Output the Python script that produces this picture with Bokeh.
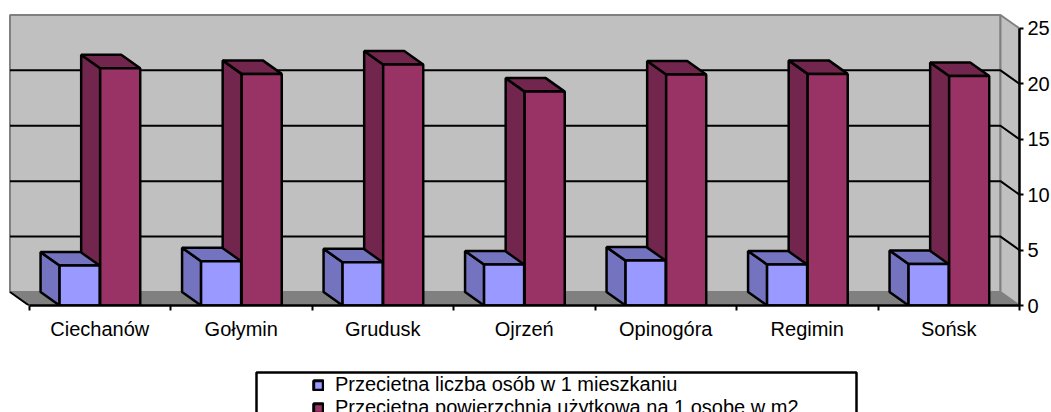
from bokeh.plotting import figure
from bokeh.layouts import column
from bokeh.models import Range1d, FixedTicker, Legend, LegendItem, BoxAnnotation
from bokeh.embed import file_html
from bokeh.resources import INLINE

categories = ["Ciechanów", "Gołymin", "Grudusk", "Ojrzeń", "Opinogóra", "Regimin", "Sońsk"]
persons = [3.6, 4.0, 3.9, 3.7, 4.05, 3.7, 3.75]
area = [21.4, 20.9, 21.75, 19.3, 20.85, 20.9, 20.7]
name_persons = "Przecietna liczba osób w 1 mieszkaniu"
name_area = "Przecietna powierzchnia użytkowa na 1 osobe w m2"
y_ticks = [0, 5, 10, 15, 20, 25]

DX = 19 / 141.43   # depth, in category units
DY = 13.5 / 11.08  # depth, in value units
W = 0.283          # bar width
LW = 2.5

FONT = "Liberation Sans"
FS = "20px"
p = figure(width=1051, height=345, frame_width=1011, frame_height=297,
           x_range=Range1d(-0.145, 7), y_range=Range1d(0, 26.8),
           toolbar_location=None, output_backend="svg", y_axis_location="right",
           min_border_left=8, min_border_top=8, min_border_right=32, min_border_bottom=40,
           outline_line_color=None, background_fill_color=None, border_fill_color="white")
p.grid.visible = False

# walls and floor
GRAY = "#808080"
WALL = "#C0C0C0"
p.patch([-DX, 7 - DX, 7 - DX, -DX], [DY, DY, 25 + DY, 25 + DY], fill_color=WALL, line_color=GRAY, line_width=2)
p.patch([7 - DX, 7, 7, 7 - DX], [DY, 0, 25, 25 + DY], fill_color=WALL, line_color=GRAY, line_width=2)
# grid lines: along the back wall, then forward along the side wall
inner = [t for t in y_ticks if 0 < t < 25]
p.multi_line([[-DX, 7 - DX, 7] for _ in inner], [[t + DY, t + DY, t] for t in inner], line_color="black", line_width=2)
p.patch([-DX, 7 - DX, 7, 0], [DY, DY, 0, 0], fill_color=GRAY, line_color=GRAY, line_width=1)
p.line([-DX, 0], [DY, 0], line_color="black", line_width=2)

def box_faces(left, tops, side_color, front_color):
    xs_side, ys_side, xs_top, ys_top = [], [], [], []
    for i, t in enumerate(tops):
        x0 = i + left
        xs_side.append([x0, x0 - DX, x0 - DX, x0])
        ys_side.append([0, DY, t + DY, t])
        xs_top.append([x0, x0 - DX, x0 + W - DX, x0 + W])
        ys_top.append([t, t + DY, t + DY, t])
    p.patches(xs_side, ys_side, fill_color=side_color, line_color="black", line_width=LW)
    p.patches(xs_top, ys_top, fill_color=side_color, line_color="black", line_width=LW)
    p.quad(left=[i + left for i in range(len(tops))],
           right=[i + left + W for i in range(len(tops))],
           bottom=0, top=tops, fill_color=front_color, line_color="black", line_width=LW)

LEFT_A, LEFT_B = 0.216, 0.503
BLUE, MAROON = "#9999FF", "#993366"
box_faces(LEFT_B, area, "#73264D", MAROON)
box_faces(LEFT_A, persons, "#7373BF", BLUE)

# axes
xa = p.xaxis[0]
xa.ticker = FixedTicker(ticks=[i + 0.5 for i in range(7)], minor_ticks=list(range(8)))
xa.major_label_overrides = {i + 0.5: c for i, c in enumerate(categories)}
xa.bounds = (0, 7)
xa.axis_line_color = "black"; xa.axis_line_width = LW
xa.major_tick_line_color = None
xa.minor_tick_line_color = "black"; xa.minor_tick_line_width = 2
xa.minor_tick_out = 5; xa.minor_tick_in = 0
xa.major_label_standoff = 6
xa.major_label_text_font = FONT; xa.major_label_text_font_size = FS; xa.major_label_text_color = "black"

ya = p.yaxis[0]
ya.ticker = FixedTicker(ticks=y_ticks, minor_ticks=[])
ya.bounds = (0, 25)
ya.axis_line_color = "black"; ya.axis_line_width = LW
ya.major_tick_line_color = "black"; ya.major_tick_line_width = 2
ya.major_tick_out = 4; ya.major_tick_in = 0
ya.major_label_standoff = 4
ya.major_label_text_font = FONT; ya.major_label_text_font_size = FS; ya.major_label_text_color = "black"

# legend, in its own strip under the chart
q = figure(width=1051, height=67, x_range=Range1d(0, 1051), y_range=Range1d(0, 67),
           toolbar_location=None, output_backend="svg",
           min_border_left=0, min_border_top=0, min_border_right=0, min_border_bottom=0,
           outline_line_color=None, background_fill_color=None, border_fill_color="white")
q.axis.visible = False
q.grid.visible = False
q.add_layout(BoxAnnotation(left=256, right=856, top=27, bottom=120,
                           left_units="canvas", right_units="canvas", top_units="canvas", bottom_units="canvas",
                           fill_color="white", fill_alpha=1, line_color="black", line_width=LW, line_alpha=1))
r1 = q.quad(left=[0], right=[0], bottom=[0], top=[0], fill_color=BLUE, line_color="black", line_width=3)
r2 = q.quad(left=[0], right=[0], bottom=[0], top=[0], fill_color=MAROON, line_color="black", line_width=3)
legend = Legend(items=[LegendItem(label=name_persons, renderers=[r1]),
                       LegendItem(label=name_area, renderers=[r2])],
                location=(304, -7), orientation="vertical", padding=0, margin=0, spacing=-4,
                glyph_width=12, glyph_height=12, label_height=14, label_standoff=11,
                label_text_font=FONT, label_text_font_size=FS, label_text_color="black",
                background_fill_alpha=0, border_line_color=None)
q.add_layout(legend, "center")

open("out.html", "w").write(file_html(column(p, q, spacing=0), INLINE))
